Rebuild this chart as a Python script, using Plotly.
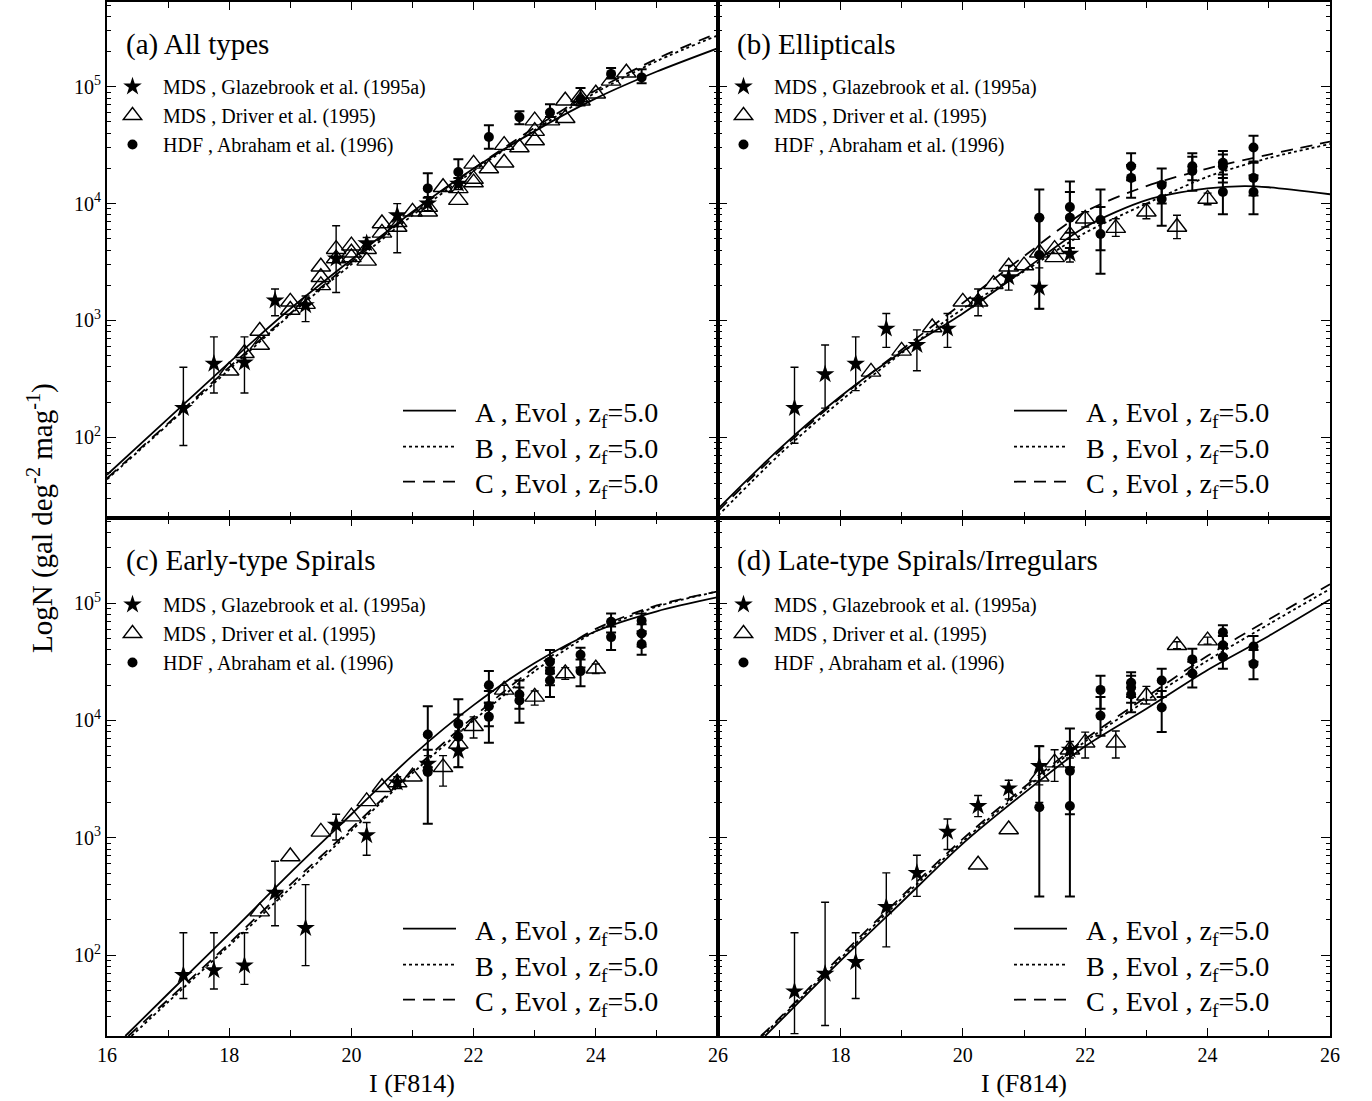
import plotly.graph_objects as go

FONT = "Liberation Serif"
W, H = 1372, 1101

# ---------------- data (values are log10 N) ----------------
# Panel (a) All types
a_star_I = [17.25, 17.75, 18.25, 18.75, 19.25, 19.75, 20.25, 20.75, 21.25, 21.75]
a_star_logN = [2.25, 2.63, 2.64, 3.17, 3.13, 3.53, 3.66, 3.90, 4.00, 4.17]
a_star_hi = [2.60, 2.86, 2.86, 3.27, 3.21, 3.81, 3.71, 4.00, 4.06, 4.22]
a_star_lo = [1.93, 2.38, 2.38, 3.04, 2.99, 3.24, 3.61, 3.58, 3.94, 4.12]
a_tri_I = [18.0, 18.25, 18.5, 18.5, 19.0, 19.0, 19.25, 19.5, 19.5, 19.5, 19.75, 19.75, 20.0, 20.0, 20.0,
           20.25, 20.25, 20.5, 20.5, 20.75, 20.75, 21.0, 21.25, 21.25, 21.5, 21.75, 21.75, 22.0, 22.0, 22.0,
           22.25, 22.5, 22.5, 22.75, 23.0, 23.0, 23.0, 23.25, 23.5, 23.5, 23.75, 23.75, 24.0, 24.25, 24.5]
a_tri_logN = [2.57, 2.72, 2.91, 2.79, 3.16, 3.09, 3.14, 3.37, 3.46, 3.30, 3.61, 3.53, 3.58, 3.54, 3.64,
              3.61, 3.51, 3.83, 3.75, 3.84, 3.80, 3.93, 3.93, 3.97, 4.14, 4.03, 4.13, 4.18, 4.21, 4.34,
              4.30, 4.50, 4.35, 4.48, 4.54, 4.62, 4.71, 4.71, 4.73, 4.88, 4.91, 4.88, 4.94, 5.05, 5.12]
a_trie_I, a_trie_logN, a_trie_hi, a_trie_lo = [], [], [], []
a_hdf_I = [21.25, 21.75, 22.25, 22.75, 23.25, 23.75, 24.25, 24.75]
a_hdf_logN = [4.13, 4.27, 4.57, 4.74, 4.78, 4.89, 5.11, 5.08]
a_hdf_hi = [4.26, 4.38, 4.67, 4.79, 4.85, 4.99, 5.16, 5.15]
a_hdf_lo = [4.05, 4.22, 4.47, 4.68, 4.74, 4.84, 5.07, 5.03]
a_A_I = [16, 17, 18, 19, 20, 21, 22, 23, 24, 25, 26]
a_A_logN = [1.68, 2.16, 2.64, 3.10, 3.52, 3.93, 4.30, 4.62, 4.90, 5.13, 5.33]
a_B_I = [16, 17, 18, 19, 20, 21, 22, 23, 24, 25, 26]
a_B_logN = [1.64, 2.11, 2.58, 3.05, 3.48, 3.90, 4.28, 4.63, 4.95, 5.22, 5.44]
a_C_I = [16, 17, 18, 19, 20, 21, 22, 23, 24, 25, 26]
a_C_logN = [1.65, 2.12, 2.60, 3.06, 3.50, 3.92, 4.30, 4.65, 4.97, 5.24, 5.46]

# Panel (b) Ellipticals
b_star_I = [17.25, 17.75, 18.25, 18.75, 19.25, 19.75, 20.25, 20.75, 21.25, 21.75]
b_star_logN = [2.25, 2.54, 2.63, 2.93, 2.79, 2.93, 3.17, 3.37, 3.28, 3.57]
b_star_hi = [2.60, 2.79, 2.86, 3.06, 2.92, 3.06, 3.27, 3.47, 3.45, 3.62]
b_star_lo = [1.95, 2.25, 2.40, 2.77, 2.57, 2.77, 3.04, 3.26, 3.10, 3.50]
b_tri_I = [18.5, 19.0, 19.5, 20.0, 20.25, 20.5, 20.75, 21.0, 21.25, 21.5, 21.5, 21.75]
b_tri_logN = [2.56, 2.74, 2.94, 3.16, 3.16, 3.31, 3.46, 3.47, 3.58, 3.61, 3.54, 3.73]
b_trie_I = [22.0, 22.5, 23.0, 23.5, 24.0]
b_trie_logN = [3.87, 3.79, 3.93, 3.80, 4.04]
b_trie_hi = [3.93, 3.87, 4.00, 3.90, 4.09]
b_trie_lo = [3.80, 3.72, 3.87, 3.70, 3.99]
b_hdf_I = [21.25, 21.25, 21.75, 21.75, 22.25, 22.25, 22.75, 22.75, 23.25, 23.25, 23.75, 23.75,
           24.25, 24.25, 24.25, 24.75, 24.75, 24.75]
b_hdf_logN = [3.88, 3.56, 3.97, 3.88, 3.86, 3.74, 4.32, 4.22, 4.16, 4.04, 4.32, 4.28,
              4.35, 4.32, 4.10, 4.48, 4.22, 4.10]
b_hdf_hi = [4.12, 3.88, 4.19, 4.10, 4.12, 3.97, 4.43, 4.33, 4.30, 4.18, 4.43, 4.40,
            4.45, 4.42, 4.25, 4.58, 4.35, 4.24]
b_hdf_lo = [3.56, 3.10, 3.75, 3.62, 3.60, 3.40, 4.20, 4.05, 4.00, 3.81, 4.20, 4.11,
            4.22, 4.18, 3.91, 4.36, 4.07, 3.91]
b_A_I = [16, 17, 18, 19, 20, 21, 22, 23, 24, 24.6, 25, 26]
b_A_logN = [1.39, 1.90, 2.35, 2.73, 3.06, 3.43, 3.80, 4.03, 4.13, 4.15, 4.14, 4.08]
b_B_I = [16, 17, 18, 19, 20, 21, 22, 23, 24, 25, 26]
b_B_logN = [1.33, 1.85, 2.31, 2.72, 3.10, 3.42, 3.75, 4.00, 4.23, 4.39, 4.51]
b_C_I = [16, 17, 18, 19, 20, 21, 22, 23, 24, 25, 26]
b_C_logN = [1.37, 1.88, 2.34, 2.75, 3.15, 3.55, 3.93, 4.15, 4.30, 4.42, 4.53]

# Panel (c) Early-type Spirals
c_star_I = [17.25, 17.75, 18.25, 18.75, 19.25, 19.75, 20.25, 20.75, 21.25, 21.75]
c_star_logN = [1.83, 1.87, 1.91, 2.53, 2.23, 3.11, 3.02, 3.47, 3.63, 3.74]
c_star_hi = [2.19, 2.19, 2.19, 2.80, 2.60, 3.20, 3.13, 3.52, 3.70, 3.91]
c_star_lo = [1.63, 1.71, 1.75, 2.25, 1.91, 2.98, 2.85, 3.42, 3.56, 3.60]
c_tri_I = [18.5, 19.0, 19.5, 20.0, 20.25, 20.5, 20.75, 21.0, 21.75]
c_tri_logN = [2.37, 2.84, 3.05, 3.18, 3.31, 3.43, 3.47, 3.52, 3.80]
c_trie_I = [21.5, 22.0, 22.5, 23.0, 23.5, 24.0]
c_trie_logN = [3.60, 3.95, 4.26, 4.20, 4.40, 4.44]
c_trie_hi = [3.70, 4.03, 4.30, 4.25, 4.45, 4.48]
c_trie_lo = [3.44, 3.85, 4.22, 4.13, 4.35, 4.40]
c_hdf_I = [21.25, 21.25, 21.75, 21.75, 22.25, 22.25, 22.25, 22.75, 22.75, 23.25, 23.25, 23.25,
           23.75, 23.75, 24.25, 24.25, 24.75, 24.75, 24.75]
c_hdf_logN = [3.88, 3.56, 3.97, 3.86, 4.30, 4.12, 4.03, 4.22, 4.17, 4.50, 4.42, 4.34,
              4.56, 4.42, 4.84, 4.71, 4.85, 4.74, 4.65]
c_hdf_hi = [4.12, 3.75, 4.18, 4.05, 4.42, 4.25, 4.15, 4.34, 4.28, 4.60, 4.52, 4.45,
            4.62, 4.52, 4.91, 4.80, 4.91, 4.82, 4.74]
c_hdf_lo = [3.60, 3.12, 3.75, 3.60, 4.15, 3.95, 3.81, 4.10, 3.98, 4.40, 4.30, 4.20,
            4.45, 4.29, 4.75, 4.60, 4.76, 4.63, 4.56]
c_A_I = [16.3, 17, 18, 19, 20, 21, 22, 23, 24, 25, 26]
c_A_logN = [1.31, 1.67, 2.18, 2.70, 3.20, 3.70, 4.13, 4.49, 4.76, 4.93, 5.05]
c_B_I = [16.4, 17, 18, 19, 20, 21, 22, 23, 24, 25, 26]
c_B_logN = [1.31, 1.60, 2.08, 2.57, 3.06, 3.55, 4.00, 4.42, 4.76, 4.97, 5.10]
c_C_I = [16.35, 17, 18, 19, 20, 21, 22, 23, 24, 25, 26]
c_C_logN = [1.31, 1.62, 2.10, 2.60, 3.08, 3.57, 4.03, 4.45, 4.78, 4.98, 5.10]

# Panel (d) Late-type Spirals/Irregulars
d_star_I = [17.25, 17.75, 18.25, 18.75, 19.25, 19.75, 20.25, 20.75, 21.25, 21.75]
d_star_logN = [1.69, 1.84, 1.94, 2.41, 2.70, 3.05, 3.27, 3.42, 3.61, 3.75]
d_star_hi = [2.19, 2.45, 2.19, 2.70, 2.85, 3.16, 3.36, 3.49, 3.78, 3.82]
d_star_lo = [1.33, 1.40, 1.63, 2.07, 2.50, 2.90, 3.18, 3.33, 3.45, 3.68]
d_tri_I = [20.25, 20.75, 21.75]
d_tri_logN = [2.77, 3.07, 3.75]
d_trie_I = [21.25, 21.5, 22.0, 22.5, 23.0, 23.5, 24.0]
d_trie_logN = [3.52, 3.64, 3.81, 3.81, 4.21, 4.64, 4.68]
d_trie_hi = [3.78, 3.75, 3.90, 3.91, 4.29, 4.67, 4.71]
d_trie_lo = [3.30, 3.48, 3.68, 3.68, 4.14, 4.61, 4.65]
d_hdf_I = [21.25, 21.75, 21.75, 22.25, 22.25, 22.75, 22.75, 22.75, 23.25, 23.25,
           23.75, 23.75, 24.25, 24.25, 24.25, 24.75, 24.75]
d_hdf_logN = [3.26, 3.57, 3.27, 4.26, 4.04, 4.32, 4.28, 4.22, 4.34, 4.11,
              4.52, 4.40, 4.75, 4.64, 4.54, 4.63, 4.48]
d_hdf_hi = [3.78, 3.93, 3.60, 4.38, 4.20, 4.41, 4.38, 4.32, 4.44, 4.25,
            4.61, 4.50, 4.81, 4.72, 4.62, 4.72, 4.60]
d_hdf_lo = [2.50, 3.20, 2.50, 4.10, 3.87, 4.20, 4.15, 4.07, 4.20, 3.90,
            4.40, 4.28, 4.65, 4.55, 4.44, 4.50, 4.35]
d_A_I = [16.77, 17, 18, 19, 20, 21, 22, 23, 24, 25, 26]
d_A_logN = [1.31, 1.43, 1.95, 2.45, 2.95, 3.38, 3.78, 4.10, 4.43, 4.72, 5.03]
d_B_I = [16.72, 17, 18, 19, 20, 21, 22, 23, 24, 25, 26]
d_B_logN = [1.31, 1.45, 1.97, 2.48, 2.97, 3.41, 3.82, 4.17, 4.51, 4.82, 5.12]
d_C_I = [16.7, 17, 18, 19, 20, 21, 22, 23, 24, 25, 26]
d_C_logN = [1.31, 1.46, 1.99, 2.50, 2.99, 3.43, 3.84, 4.20, 4.55, 4.86, 5.16]

panel_titles = ["(a) All types", "(b) Ellipticals", "(c) Early-type Spirals", "(d) Late-type Spirals/Irregulars"]
data_labels = ["MDS , Glazebrook et al. (1995a)", "MDS , Driver et al. (1995)", "HDF , Abraham et al. (1996)"]
model_labels = ["\u00a0\u00a0A , Evol , z<sub>f</sub>=5.0", "\u00a0\u00a0B , Evol , z<sub>f</sub>=5.0",
                "\u00a0\u00a0C , Evol , z<sub>f</sub>=5.0"]
y_tickvals = [1e2, 1e3, 1e4, 1e5]
y_ticktext = ["10<sup>2</sup>", "10<sup>3</sup>", "10<sup>4</sup>", "10<sup>5</sup>"]
x_label = "I (F814)"
y_label = "LogN (gal deg<sup>-2</sup> mag<sup>-1</sup>)"

# ---------------- build ----------------
def lin(v):
    return [10 ** t for t in v]

panels = [
    dict(star=(a_star_I, a_star_logN, a_star_hi, a_star_lo), tri=(a_tri_I, a_tri_logN),
         trie=(a_trie_I, a_trie_logN, a_trie_hi, a_trie_lo), hdf=(a_hdf_I, a_hdf_logN, a_hdf_hi, a_hdf_lo),
         A=(a_A_I, a_A_logN), B=(a_B_I, a_B_logN), C=(a_C_I, a_C_logN)),
    dict(star=(b_star_I, b_star_logN, b_star_hi, b_star_lo), tri=(b_tri_I, b_tri_logN),
         trie=(b_trie_I, b_trie_logN, b_trie_hi, b_trie_lo), hdf=(b_hdf_I, b_hdf_logN, b_hdf_hi, b_hdf_lo),
         A=(b_A_I, b_A_logN), B=(b_B_I, b_B_logN), C=(b_C_I, b_C_logN)),
    dict(star=(c_star_I, c_star_logN, c_star_hi, c_star_lo), tri=(c_tri_I, c_tri_logN),
         trie=(c_trie_I, c_trie_logN, c_trie_hi, c_trie_lo), hdf=(c_hdf_I, c_hdf_logN, c_hdf_hi, c_hdf_lo),
         A=(c_A_I, c_A_logN), B=(c_B_I, c_B_logN), C=(c_C_I, c_C_logN)),
    dict(star=(d_star_I, d_star_logN, d_star_hi, d_star_lo), tri=(d_tri_I, d_tri_logN),
         trie=(d_trie_I, d_trie_logN, d_trie_hi, d_trie_lo), hdf=(d_hdf_I, d_hdf_logN, d_hdf_hi, d_hdf_lo),
         A=(d_A_I, d_A_logN), B=(d_B_I, d_B_logN), C=(d_C_I, d_C_logN)),
]

# pixel layout
PX_L = [107, 718]
PX_R = [718, 1330]
PY_T = [2, 518]
PY_B = [518, 1036]

def px(x):
    return x / W

def py(y):
    return 1 - y / H

def legname(i):
    return "legend" if i == 1 else "legend%d" % i

fig = go.Figure()

def err(vals, hi, lo):
    y = lin(vals)
    return dict(type="data", symmetric=False,
                array=[a - b for a, b in zip(lin(hi), y)],
                arrayminus=[b - a for a, b in zip(lin(lo), y)],
                color="black", thickness=1.4, width=4)

dash_styles = {"A": "solid", "B": "dot", "C": "12px,8px"}

legends = {}
leg_i = 0
for k, p in enumerate(panels):
    ax = "" if k == 0 else str(k + 1)
    xa, ya = "x" + ax, "y" + ax
    col, row = k % 2, k // 2
    dx = 0 if col == 0 else 611
    dy = 0 if row == 0 else 518

    # data legend of this panel
    leg_i += 1
    leg_data = legname(leg_i)
    legends[leg_data] = dict(x=px(102 + dx), y=py(67 + dy), xanchor="left", yanchor="top",
                             bgcolor="rgba(0,0,0,0)", borderwidth=0, traceorder="grouped",
                             tracegroupgap=0, itemwidth=51,
                             font=dict(family=FONT, size=20, color="black"))

    # model lines, each with its own legend row
    row_y = [411, 447, 482]
    for j, key in enumerate(["A", "B", "C"]):
        leg_i += 1
        lm = legname(leg_i)
        legends[lm] = dict(x=px(398 + dx), y=py(row_y[j] + dy), xanchor="left", yanchor="middle",
                           bgcolor="rgba(0,0,0,0)", borderwidth=0, itemwidth=53,
                           font=dict(family=FONT, size=28, color="black"))
        I, L = p[key]
        fig.add_trace(go.Scatter(x=I, y=lin(L), mode="lines", xaxis=xa, yaxis=ya,
                                 line=dict(color="black", width=1.8, dash=dash_styles[key],
                                           shape="spline", smoothing=0.8),
                                 name=model_labels[j], legend=lm))
    # triangles with error bars (no legend)
    I, L, Hh, Ll = p["trie"]
    if I:
        fig.add_trace(go.Scatter(x=I, y=lin(L), mode="markers", xaxis=xa, yaxis=ya, showlegend=False,
                                 marker=dict(symbol="triangle-up-open", size=17, color="black", line=dict(width=1.4)),
                                 error_y=err(L, Hh, Ll)))
    I, L = p["tri"]
    fig.add_trace(go.Scatter(x=I, y=lin(L), mode="markers", xaxis=xa, yaxis=ya,
                             marker=dict(symbol="triangle-up-open", size=17, color="black", line=dict(width=1.4)),
                             name=data_labels[1], legend=leg_data, legendrank=2, legendgroup="d%d1" % k))
    I, L, Hh, Ll = p["star"]
    fig.add_trace(go.Scatter(x=I, y=lin(L), mode="markers", xaxis=xa, yaxis=ya,
                             marker=dict(symbol="star", size=14, color="black", line=dict(width=0)),
                             error_y=err(L, Hh, Ll),
                             name=data_labels[0], legend=leg_data, legendrank=1, legendgroup="d%d0" % k))
    I, L, Hh, Ll = p["hdf"]
    e = err(L, Hh, Ll)
    e["thickness"] = 2
    e["width"] = 5
    fig.add_trace(go.Scatter(x=I, y=lin(L), mode="markers", xaxis=xa, yaxis=ya,
                             marker=dict(symbol="circle", size=10, color="black"),
                             error_y=e,
                             name=data_labels[2], legend=leg_data, legendrank=3, legendgroup="d%d2" % k))

# axes
minor_y = [m * 10 ** e for e in range(1, 6) for m in range(2, 10)]
layout_axes = {}
for k in range(4):
    ax = "" if k == 0 else str(k + 1)
    col = k % 2
    row = k // 2
    xl, xr = (PX_L if col == 0 else PX_R)
    yt, yb = (PY_T if row == 0 else PY_B)
    xvals = [16, 18, 20, 22, 24, 26] if col == 0 else [18, 20, 22, 24, 26]
    layout_axes["xaxis" + ax] = dict(
        domain=[px(xl), px(xr)], range=[16, 26], anchor="y" + ax, automargin=False,
        showline=True, linecolor="black", linewidth=2, mirror="allticks",
        ticks="inside", ticklen=8, tickwidth=1.3, tickcolor="black",
        tickvals=xvals, ticktext=[str(v) for v in xvals],
        showticklabels=(row == 1), showgrid=False, zeroline=False,
        minor=dict(ticks="inside", ticklen=6, tickwidth=1.3, tickcolor="black",
                   tickvals=[17, 19, 21, 23, 25], showgrid=False),
        tickfont=dict(family=FONT, size=20, color="black"),
    )
    layout_axes["yaxis" + ax] = dict(
        domain=[py(yb), py(yt)], type="log", range=[1.31, 5.725], anchor="x" + ax, automargin=False,
        showline=True, linecolor="black", linewidth=2, mirror="allticks",
        ticks="inside", ticklen=9, tickwidth=1.3, tickcolor="black",
        tickvals=y_tickvals, ticktext=y_ticktext,
        showticklabels=(col == 0), showgrid=False, zeroline=False,
        minor=dict(ticks="inside", ticklen=4, tickwidth=1, tickcolor="black",
                   tickvals=minor_y, showgrid=False),
        tickfont=dict(family=FONT, size=20, color="black"),
    )

annotations = []
title_pos = [(124, 44), (735, 44), (124, 560), (735, 560)]
for t, (x0, y0) in zip(panel_titles, title_pos):
    annotations.append(dict(text=t, x=px(x0), y=py(y0), xref="paper", yref="paper",
                            xanchor="left", yanchor="middle", showarrow=False,
                            font=dict(family=FONT, size=29, color="black")))
for xc in [412, 1024]:
    annotations.append(dict(text=x_label, x=px(xc), y=py(1083), xref="paper", yref="paper",
                            xanchor="center", yanchor="middle", showarrow=False,
                            font=dict(family=FONT, size=26, color="black")))
annotations.append(dict(text=y_label, x=px(40), y=py(518), xref="paper", yref="paper",
                        xanchor="center", yanchor="middle", showarrow=False, textangle=-90,
                        font=dict(family=FONT, size=29, color="black")))

fig.update_layout(
    width=W, height=H, margin=dict(l=0, r=0, t=0, b=0, autoexpand=False),
    paper_bgcolor="white", plot_bgcolor="white",
    font=dict(family=FONT, color="black"),
    annotations=annotations, **layout_axes, **legends,
)
fig.write_html("out.html")
